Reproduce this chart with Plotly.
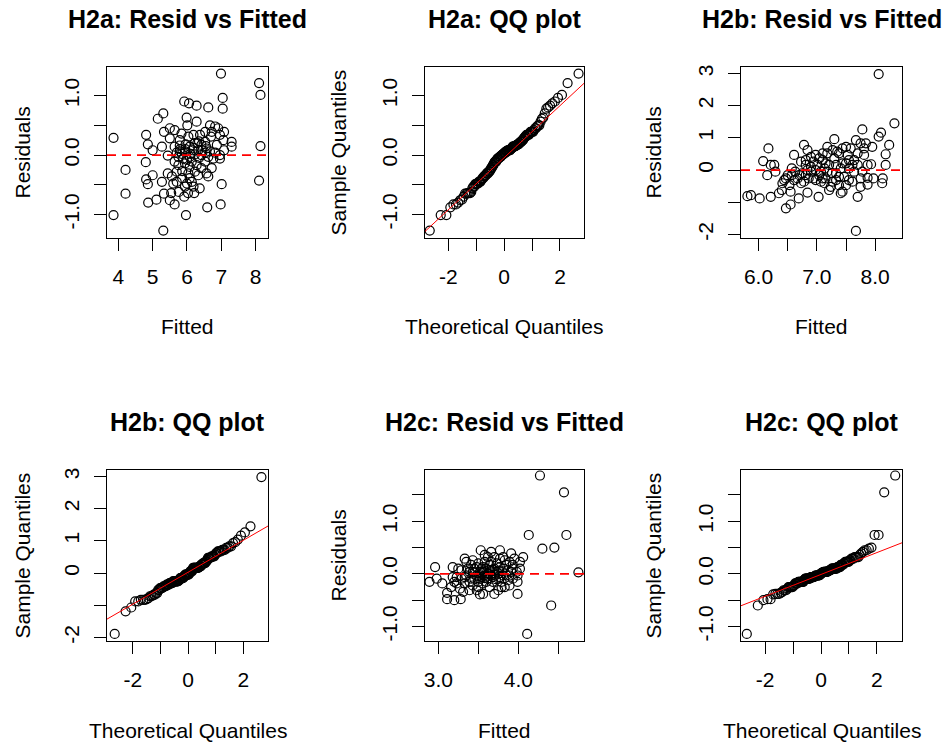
import numpy as np
import plotly.graph_objects as go
from statistics import NormalDist

# ---------------- data ----------------
h2a_fitted = [6.99, 8.10, 8.14, 8.14, 8.10, 3.86, 4.21, 4.21, 3.86, 5.31, 5.97, 7.04, 7.04, 7.01, 6.98,
              6.59, 5.92, 6.06, 6.28, 6.62, 5.31, 5.15, 5.99, 6.01, 6.28, 4.81, 4.86, 5.00, 4.80, 4.81,
              4.86, 5.00, 4.87, 5.11, 5.33, 5.27, 5.44, 5.44, 5.27, 5.33, 5.50, 5.64, 5.50, 5.64, 5.54,
              5.76, 5.92, 6.03, 6.21, 6.37, 5.70, 5.56, 6.00, 6.14, 6.57, 6.72, 6.53, 6.96, 7.08, 7.30,
              7.30, 7.08, 6.91, 6.82, 6.67, 6.70, 6.53, 6.38, 6.19, 6.04, 5.84, 5.79, 5.64, 5.79, 5.94,
              6.08, 6.23, 6.42, 6.57, 6.67, 6.82, 6.87, 6.96, 6.77, 6.62, 6.42, 6.23, 6.08, 5.89, 5.75,
              5.64, 5.75, 5.94, 6.08, 6.28, 6.42, 6.23, 6.04, 5.86, 5.70, 5.86, 6.08, 6.33, 6.62, 6.72,
              6.53, 6.35, 5.96, 6.16, 6.33, 6.53, 5.79, 5.70, 5.50, 6.14, 5.94, 6.19, 5.60, 6.96, 7.06,
              5.85, 5.95, 6.10, 6.20, 6.35, 6.45, 6.55, 6.00, 5.80, 6.30]
h2a_resid = [1.37, 1.21, 1.01, 0.15, -0.43, 0.29, -0.25, -0.65, -1.01, -1.27, -1.01, 0.96, 0.78, -0.49, -0.83,
             -0.88, 0.90, 0.87, 0.83, 0.80, 0.70, 0.61, 0.63, 0.50, 0.56, 0.34, 0.18, 0.08, -0.12, -0.41,
             -0.49, -0.34, -0.80, -0.75, -0.65, -0.45, -0.31, -0.01, 0.14, 0.39, 0.45, 0.42, -0.76, -0.83, -0.64,
             -0.62, -0.70, -0.64, -0.64, -0.56, -0.45, -0.36, -0.48, -0.45, -0.31, -0.22, -0.11, -0.06, 0.08, 0.22,
             0.14, 0.39, 0.45, 0.48, 0.50, 0.31, 0.22, 0.34, 0.34, 0.31, 0.36, 0.25, 0.14, 0.06, 0.06,
             0.14, 0.20, 0.17, 0.11, 0.06, 0.04, 0.17, 0.00, -0.06, -0.03, 0.00, 0.01, -0.03, -0.06, -0.03,
             -0.11, -0.17, -0.14, -0.20, -0.17, -0.22, -0.28, -0.31, -0.27, -0.28, -0.39, -0.39, -0.34, -0.36, 0.39,
             0.39, 0.23, 0.18, 0.08, 0.08, 0.04, 0.16, 0.04, 0.28, -0.11, -0.53, -0.53, -0.48, 0.34, 0.25,
             0.02, 0.10, 0.02, 0.12, -0.05, 0.08, 0.15, -0.08, 0.10, 0.20]

h2b_fitted = [8.06, 8.33, 8.10, 7.78, 7.67, 5.81, 5.87, 6.02, 6.21, 6.35, 6.40, 6.47, 6.55, 6.69, 6.84,
              7.03, 7.41, 7.70, 6.17, 6.08, 6.21, 6.27, 6.15, 6.29, 6.44, 6.50, 6.57, 6.61, 6.78, 6.84,
              6.53, 6.55, 6.67, 6.75, 6.81, 6.73, 6.90, 6.98, 6.90, 6.94, 7.04, 7.01, 7.10, 7.18, 7.18,
              7.30, 7.13, 7.15, 7.13, 7.21, 7.27, 7.26, 7.33, 7.35, 7.50, 7.38, 7.38, 7.50, 7.47, 7.55,
              7.55, 7.53, 7.44, 7.64, 7.70, 7.67, 7.75, 7.81, 7.84, 7.81, 7.70, 7.87, 7.93, 7.87, 7.75,
              7.75, 7.87, 7.95, 8.06, 8.13, 8.12, 8.18, 8.18, 8.24, 7.97, 6.94, 6.90, 6.86, 6.98, 7.07,
              7.18, 7.21, 7.30, 7.38, 7.27, 7.10, 7.04, 6.81, 6.78, 6.73, 6.61, 6.47, 6.41, 7.55, 7.58,
              7.64, 7.61, 7.33, 7.44, 7.24, 7.07, 6.98, 6.81, 6.63, 6.57, 7.78, 7.61, 7.50, 7.41, 7.33,
              7.15, 6.84, 6.70, 7.10, 7.44]
h2b_resid = [2.98, 1.45, 1.16, 1.26, -1.89, -0.81, -0.78, -0.88, -0.83, -0.72, -0.62, -1.19, -1.07, -0.88, -0.70,
             -0.83, -0.72, -0.83, 0.67, 0.28, 0.16, 0.16, -0.16, -0.05, -0.31, -0.16, 0.05, 0.47, 0.78, 0.62,
             -0.47, -0.67, -0.26, -0.10, 0.16, 0.26, 0.41, 0.47, -0.05, -0.26, -0.16, 0.16, 0.31, 0.72, 0.52,
             0.96, 0.05, -0.26, -0.41, -0.62, -0.36, -0.10, 0.16, 0.57, 0.72, -0.21, -0.47, -0.47, -0.21, -0.31,
             0.05, 0.47, 0.21, 0.31, 0.52, 0.93, 0.83, 0.67, 0.83, 0.47, 0.16, 0.16, 0.18, -0.24, -0.26,
             -0.52, -0.45, 0.72, 1.04, -0.26, -0.41, 0.16, 0.49, 0.78, -0.26, 0.26, 0.10, -0.26, -0.31, -0.36,
             -0.05, 0.16, 0.36, 0.52, 0.62, 0.52, 0.36, -0.16, -0.36, -0.41, -0.31, -0.26, -0.41, 0.31, 0.67,
             -0.05, -0.36, -0.31, -0.67, -0.52, -0.05, 0.00, 0.31, -0.05, -0.16, -0.05, 0.16, 0.21, 0.05, -0.10,
             0.21, 0.00, -0.16, -0.26, 0.67]

h2c_fitted = [4.27, 4.57, 4.13, 4.60, 4.30, 4.45, 4.75, 4.41, 4.11, 3.99, 3.99, 4.06, 2.96, 2.89, 2.98,
              3.05, 3.11, 3.11, 3.20, 3.28, 3.18, 3.16, 3.23, 3.31, 3.33, 3.35, 3.43, 3.39, 3.45, 3.50,
              3.52, 3.56, 3.53, 3.62, 3.66, 3.64, 3.58, 3.68, 3.70, 3.75, 3.77, 3.83, 3.91, 3.93, 3.87,
              3.81, 3.75, 3.93, 3.98, 4.02, 3.48, 3.52, 3.56, 3.60, 3.70, 3.77, 3.85, 3.89, 3.41, 3.35,
              3.29, 3.23, 3.27, 3.43, 3.48, 3.54, 3.60, 3.64, 3.66, 3.73, 3.79, 3.83, 3.87, 3.91, 3.95,
              3.81, 3.70, 3.66, 3.58, 3.50, 3.41, 3.37, 3.43, 3.50, 3.56, 3.62, 3.77, 3.85, 3.89, 3.99,
              3.33, 3.29, 3.18, 3.20, 3.25, 3.39, 3.73, 3.64, 3.56, 3.52, 3.81, 3.77, 3.58, 3.39, 3.48,
              3.33, 3.89, 3.79, 3.68, 3.62, 3.75, 3.45, 3.54, 3.93, 4.02,
              3.55, 3.60, 3.65, 3.70, 3.75, 3.50, 3.45, 3.62, 3.68, 3.58, 3.72, 3.80]
h2c_resid = [1.87, 1.55, 0.74, 0.74, 0.48, 0.50, 0.03, -0.60, -1.14, -0.38, -0.15, 0.32, 0.13, -0.15, -0.09,
             -0.18, -0.36, -0.48, -0.50, -0.48, 0.13, -0.25, -0.06, -0.34, -0.18, 0.23, 0.26, 0.04, -0.09, -0.25,
             -0.39, -0.38, 0.45, 0.32, 0.23, 0.07, -0.03, -0.15, -0.38, -0.31, 0.45, 0.26, 0.39, 0.17, 0.07,
             -0.03, -0.09, -0.09, 0.04, 0.23, 0.13, 0.04, 0.13, 0.10, 0.10, 0.13, 0.17, -0.03, -0.09, -0.03,
             0.07, -0.18, -0.28, -0.22, -0.03, -0.06, -0.15, -0.25, -0.03, 0.04, -0.15, -0.25, -0.12, 0.04, 0.29,
             0.32, 0.32, 0.42, 0.23, 0.20, 0.17, 0.10, 0.04, -0.15, -0.18, -0.09, -0.06, -0.03, 0.23, -0.03,
             -0.06, -0.09, -0.06, -0.15, 0.10, -0.31, 0.20, 0.17, 0.04, -0.09, 0.10, 0.29, 0.36, -0.15, -0.31,
             0.29, -0.22, -0.25, -0.06, 0.01, 0.01, 0.10, 0.10, 0.10, 0.10,
             0.02, -0.05, 0.05, -0.02, 0.06, -0.04, 0.03, 0.00, 0.08, -0.08, -0.10, 0.05]

titles = ["H2a: Resid vs Fitted", "H2a: QQ plot", "H2b: Resid vs Fitted",
          "H2b: QQ plot", "H2c: Resid vs Fitted", "H2c: QQ plot"]

# ---------------- helpers ----------------
W, H = 945, 744
FONT = "Liberation Sans, Arial, sans-serif"
FS = 21


def qq(resid):
    y = np.sort(np.asarray(resid, dtype=float))
    n = len(y)
    a = 3 / 8 if n <= 10 else 0.5
    p = (np.arange(1, n + 1) - a) / (n + 1 - 2 * a)
    nd = NormalDist()
    x = np.array([nd.inv_cdf(v) for v in p])
    q1, q3 = np.quantile(y, [0.25, 0.75])
    t1, t3 = nd.inv_cdf(0.25), nd.inv_cdf(0.75)
    slope = (q3 - q1) / (t3 - t1)
    inter = q1 - slope * t1
    return x, y, slope, inter


# panel boxes in pixels: (left, right, top, bottom)
cols = [(107, 268), (425, 584), (741, 902)]
rows = [(67, 238), (470, 641)]

panels = [
    dict(kind="rvf", x=h2a_fitted, y=h2a_resid, xr=[3.67, 8.36], yr=[-1.395, 1.48],
         xt=[4, 5, 6, 7, 8], xl=["4", "5", "6", "7", "8"],
         yt=[-1, -0.5, 0, 0.5, 1], yl=["-1.0", "", "0.0", "", "1.0"], xlab="Fitted", ylab="Residuals"),
    dict(kind="qq", y=h2a_resid, xr=[-2.835, 2.86], yr=[-1.395, 1.48],
         xt=[-2, -1, 0, 1, 2], xl=["-2", "", "0", "", "2"],
         yt=[-1, -0.5, 0, 0.5, 1], yl=["-1.0", "", "0.0", "", "1.0"],
         xlab="Theoretical Quantiles", ylab="Sample Quantiles"),
    dict(kind="rvf", x=h2b_fitted, y=h2b_resid, xr=[5.70, 8.46], yr=[-2.11, 3.2],
         xt=[6, 6.5, 7, 7.5, 8], xl=["6.0", "", "7.0", "", "8.0"],
         yt=[-2, -1, 0, 1, 2, 3], yl=["-2", "", "0", "1", "2", "3"], xlab="Fitted", ylab="Residuals"),
    dict(kind="qq", y=h2b_resid, xr=[-2.93, 2.89], yr=[-2.11, 3.2],
         xt=[-2, -1, 0, 1, 2], xl=["-2", "", "0", "", "2"],
         yt=[-2, -1, 0, 1, 2, 3], yl=["-2", "", "0", "1", "2", "3"],
         xlab="Theoretical Quantiles", ylab="Sample Quantiles"),
    dict(kind="rvf", x=h2c_fitted, y=h2c_resid, xr=[2.834, 4.82], yr=[-1.275, 1.975],
         xt=[3, 3.5, 4, 4.5], xl=["3.0", "", "4.0", ""],
         yt=[-1, -0.5, 0, 0.5, 1, 1.5], yl=["-1.0", "", "0.0", "", "1.0", ""], xlab="Fitted", ylab="Residuals"),
    dict(kind="qq", y=h2c_resid, xr=[-2.865, 2.90], yr=[-1.275, 1.975],
         xt=[-2, -1, 0, 1, 2], xl=["-2", "", "0", "", "2"],
         yt=[-1, -0.5, 0, 0.5, 1, 1.5], yl=["-1.0", "", "0.0", "", "1.0", ""],
         xlab="Theoretical Quantiles", ylab="Sample Quantiles"),
]

fig = go.Figure()
annotations = []
shapes = []
layout_axes = {}

title_y = [18.5, 422]
xlab_y = [326, 730]
ylab_x = [22, 338, 653]

for i, pnl in enumerate(panels):
    r, c = divmod(i, 3)
    L, R = cols[c]
    T, B = rows[r]
    k = i + 1
    xa = "x" if k == 1 else f"x{k}"
    ya = "y" if k == 1 else f"y{k}"
    common = dict(showline=True, mirror=True, linecolor="black", linewidth=1.3,
                  ticks="outside", ticklen=12, tickwidth=1.3, tickcolor="black",
                  showgrid=False, zeroline=False, tickmode="array",
                  tickfont=dict(family=FONT, size=FS, color="black"))
    layout_axes["xaxis" if k == 1 else f"xaxis{k}"] = dict(
        domain=[L / W, R / W], range=pnl["xr"], anchor=ya,
        tickvals=pnl["xt"], ticktext=pnl["xl"], ticklabelstandoff=8, **common)
    layout_axes["yaxis" if k == 1 else f"yaxis{k}"] = dict(
        domain=[1 - B / H, 1 - T / H], range=pnl["yr"], anchor=xa,
        tickvals=pnl["yt"], ticktext=pnl["yl"], tickangle=-90, ticklabelstandoff=6, **common)

    if pnl["kind"] == "rvf":
        fig.add_trace(go.Scatter(x=pnl["x"], y=pnl["y"], mode="markers", xaxis=xa, yaxis=ya,
                                 marker=dict(symbol="circle-open", size=9, color="black",
                                             line=dict(width=1.2, color="black")),
                                 showlegend=False, hoverinfo="skip"))
        shapes.append(dict(type="line", xref=f"{xa} domain", yref=ya, x0=0, x1=1, y0=0, y1=0,
                           line=dict(color="#ff0000", width=1.8, dash="9px,6px")))
    else:
        qx, qy, slope, inter = qq(pnl["y"])
        fig.add_trace(go.Scatter(x=qx, y=qy, mode="markers", xaxis=xa, yaxis=ya,
                                 marker=dict(symbol="circle-open", size=9, color="black",
                                             line=dict(width=1.2, color="black")),
                                 showlegend=False, hoverinfo="skip"))
        x0, x1 = pnl["xr"]
        shapes.append(dict(type="line", xref=xa, yref=ya, x0=x0, x1=x1,
                           y0=inter + slope * x0, y1=inter + slope * x1,
                           line=dict(color="#ff0000", width=1.0), layer="above"))

    annotations.append(dict(text=f"<b>{titles[i]}</b>", xref="paper", yref="paper",
                            x=(L + R) / 2 / W, y=1 - title_y[r] / H, xanchor="center", yanchor="middle",
                            showarrow=False, font=dict(family=FONT, size=25, color="black")))
    annotations.append(dict(text=pnl["xlab"], xref="paper", yref="paper",
                            x=(L + R) / 2 / W, y=1 - xlab_y[r] / H, xanchor="center", yanchor="middle",
                            showarrow=False, font=dict(family=FONT, size=FS, color="black")))
    annotations.append(dict(text=pnl["ylab"], xref="paper", yref="paper", textangle=-90,
                            x=ylab_x[c] / W, y=1 - (T + B) / 2 / H, xanchor="center", yanchor="middle",
                            showarrow=False, font=dict(family=FONT, size=FS, color="black")))

fig.update_layout(width=W, height=H, margin=dict(l=0, r=0, t=0, b=0, autoexpand=False),
                  paper_bgcolor="white", plot_bgcolor="white",
                  annotations=annotations, shapes=shapes, **layout_axes)
fig.write_html("out.html", config={"displayModeBar": False})
